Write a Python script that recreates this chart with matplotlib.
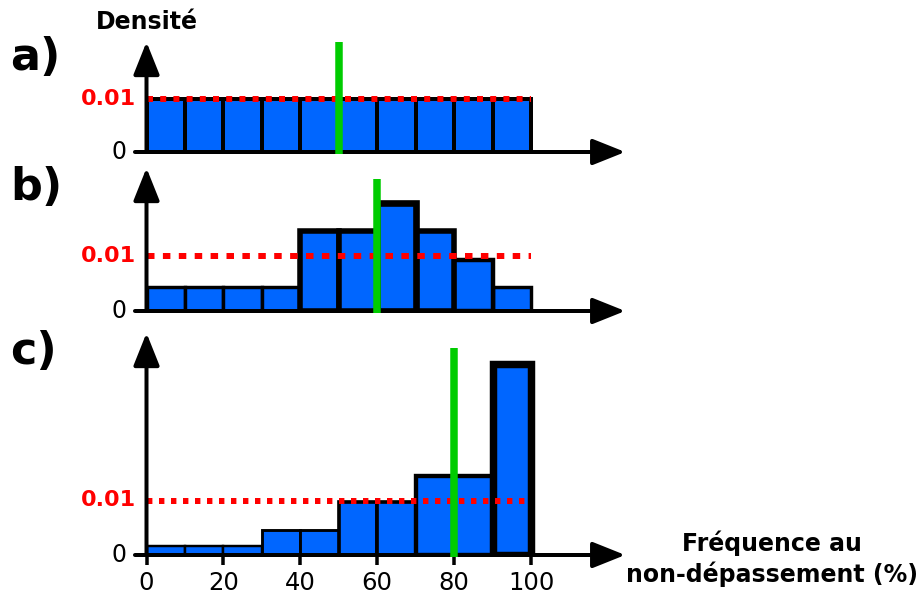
import matplotlib
matplotlib.use("Agg")
import matplotlib.pyplot as plt

# ---------------- data ----------------
bin_edges = [0, 10, 20, 30, 40, 50, 60, 70, 80, 90, 100]
density_a = [0.0100, 0.0100, 0.0100, 0.0100, 0.0100, 0.0100, 0.0100, 0.0100, 0.0100, 0.0100]
density_b = [0.0044, 0.0044, 0.0044, 0.0044, 0.0145, 0.0145, 0.0197, 0.0145, 0.0093, 0.0044]
density_c = [0.0016, 0.0016, 0.0016, 0.0046, 0.0046, 0.0098, 0.0098, 0.0145, 0.0145, 0.0350]
uniform_level = 0.01
marker_a = 50
marker_b = 60
marker_c = 80
panel_labels = ["a)", "b)", "c)"]
x_ticks = [0, 20, 40, 60, 80, 100]
x_tick_labels = ["0", "20", "40", "60", "80", "100"]
y_label = "Densité"
x_label = "Fréquence au\nnon-dépassement (%)"

# ---------------- style ----------------
W, H = 922, 595
DPI = 100
BLUE = "#0066ff"
GREEN = "#00cc00"
RED = "#ff0000"
px = 72.0 / DPI  # points per pixel

fig = plt.figure(figsize=(W / DPI, H / DPI), dpi=DPI)
fig.patch.set_facecolor("white")

X0_PX = 146.5
X_SCALE = 3.845  # px per x unit
XMAX = 124.5


def make_axes(baseline_px, top_px, px_per_001):
    left = X0_PX / W
    width = XMAX * X_SCALE / W
    bottom = 1 - baseline_px / H
    height = (baseline_px - top_px) / H
    ax = fig.add_axes([left, bottom, width, height])
    ax.set_xlim(0, XMAX)
    ax.set_ylim(0, (baseline_px - top_px) / px_per_001 * 0.01)
    for s in ax.spines.values():
        s.set_visible(False)
    ax.set_facecolor("none")
    return ax


def arrow(ax, start, end):
    ax.annotate("", xy=end, xytext=start, xycoords="data", textcoords="data",
                arrowprops=dict(arrowstyle="-|>,head_length=1.0,head_width=0.4",
                                mutation_scale=20, lw=4 * px, color="black",
                                shrinkA=0, shrinkB=0),
                annotation_clip=False, zorder=6)


def panel(ax, dens, marker, green_top, label, label_y_px, lw_base, lw_slope, dash):
    order = sorted(range(len(dens)), key=lambda i: dens[i])
    for rank, i in enumerate(order):
        lw_px = lw_base + lw_slope * dens[i]
        ax.bar(bin_edges[i], dens[i], width=bin_edges[i + 1] - bin_edges[i],
               align="edge", color=BLUE, edgecolor="black",
               linewidth=lw_px * px, zorder=2 + rank * 0.01)
    ax.plot([bin_edges[0], bin_edges[-1]], [uniform_level, uniform_level],
            color=RED, linewidth=6 * px, linestyle=(0, dash),
            solid_capstyle="butt", dash_capstyle="butt", zorder=4, clip_on=False)
    ax.plot([marker, marker], [-0.0003, green_top], color=GREEN,
            linewidth=7.5 * px, solid_capstyle="butt", zorder=7, clip_on=False)
    ytop = ax.get_ylim()[1]
    arrow(ax, (0, 0), (0, ytop))
    arrow(ax, (-3, 0), (XMAX, 0))
    ax.annotate("0.01", xy=(0, uniform_level), xytext=(-11 * px, 0),
                textcoords="offset points", ha="right", va="center",
                color=RED, fontsize=16, fontweight="bold")
    ax.annotate("0", xy=(0, 0), xytext=(-20 * px, 0),
                textcoords="offset points", ha="right", va="center",
                color="black", fontsize=17)
    fig.text(10 / W, 1 - label_y_px / H, label, fontsize=32, fontweight="bold",
             ha="left", va="center")


ax_a = make_axes(152, 42, 53)
ax_b = make_axes(311, 168, 55)
ax_c = make_axes(555, 333, 54.5)

for a in (ax_a, ax_b):
    a.set_xticks([])
    a.set_yticks([])
ax_c.set_yticks([])

panel(ax_a, density_a, marker_a, ax_a.get_ylim()[1], panel_labels[0], 58,
      2.2, 180, (1.0, 1.2))
panel(ax_b, density_b, marker_b, (311 - 179) / 55 * 0.01, panel_labels[1], 187,
      2.5, 210, (1.25, 1.4))
panel(ax_c, density_c, marker_c, (555 - 348) / 54.5 * 0.01, panel_labels[2], 352,
      2.2, 150, (0.9, 1.1))

ax_c.set_xticks(x_ticks)
ax_c.set_xticklabels(x_tick_labels)
ax_c.tick_params(axis="x", direction="out", length=10 * px, width=3.5 * px,
                 labelsize=17.5, pad=4)

fig.text(147 / W, 1 - 22 / H, y_label, fontsize=17, fontweight="bold",
         ha="center", va="center")
fig.text(772 / W, 1 - 559 / H, x_label, fontsize=17, fontweight="bold",
         ha="center", va="center", linespacing=1.25)

fig.savefig("out.png", dpi=DPI)
